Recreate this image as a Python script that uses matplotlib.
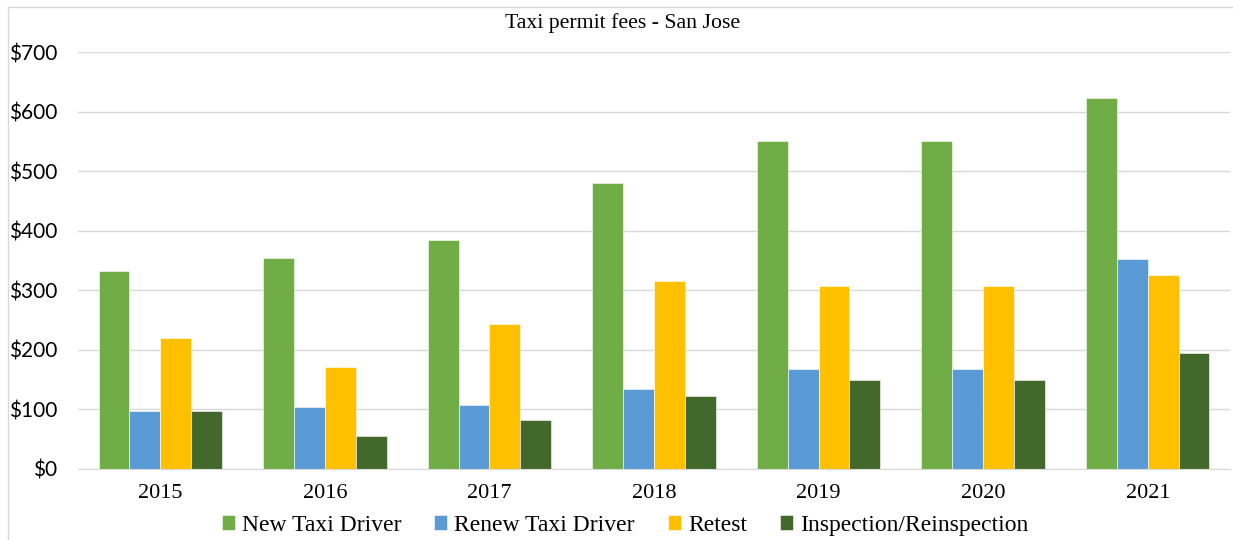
import numpy as np
import matplotlib
matplotlib.use("Agg")
import matplotlib.pyplot as plt
from matplotlib.lines import Line2D

years = ["2015", "2016", "2017", "2018", "2019", "2020", "2021"]
new_driver = [332, 355, 384, 480, 550, 550, 622]
renew_driver = [98, 104, 108, 134, 168, 168, 352]
retest = [220, 171, 244, 315, 308, 307, 326]
inspection = [98, 56, 82, 123, 150, 150, 195]

series = [
    ("New Taxi Driver", new_driver, "#70AD47"),
    ("Renew Taxi Driver", renew_driver, "#5B9BD5"),
    ("Retest", retest, "#FFC000"),
    ("Inspection/Reinspection", inspection, "#43682B"),
]

serif = "Liberation Serif"

fig = plt.figure(figsize=(12.33, 5.4), dpi=100)
ax = fig.add_axes([0.0633, 0.1315, 0.9343, 0.7722])

x = np.arange(len(years))
w = 0.1875
for i, (name, vals, col) in enumerate(series):
    ax.bar(x + (i - 1.5) * w, vals, width=w, color=col, label=name,
           edgecolor="white", linewidth=0.4, zorder=3)

ax.set_xlim(-0.5, len(years) - 0.5)
ax.set_ylim(0, 700)
ax.set_yticks(range(0, 701, 100))
ax.set_yticklabels(["$%d" % v for v in range(0, 701, 100)],
                   fontsize=15, family="Lato")
ax.set_xticks(x)
ax.set_xticklabels(years, fontsize=16, family=serif)
ax.tick_params(axis="y", length=0, pad=15)
ax.tick_params(axis="x", length=0, pad=11)
ax.grid(axis="y", color="#D9D9D9", linewidth=1, zorder=0)
for s in ["top", "right", "left"]:
    ax.spines[s].set_visible(False)
ax.spines["bottom"].set_color("#D9D9D9")
ax.spines["bottom"].set_zorder(4)

fig.text(0.505, 0.958, "Taxi permit fees - San Jose", ha="center", va="center",
         fontsize=15.7, family=serif)

fig.legend(loc="center", bbox_to_anchor=(0.507, 0.027), ncol=4, frameon=False,
           prop={"family": serif, "size": 17}, handlelength=0.55,
           handleheight=0.55, handletextpad=0.3, columnspacing=1.4)

# chart border (left and top edges visible)
fig.add_artist(Line2D([8 / 1233, 8 / 1233], [0, 1 - 7 / 540],
                      transform=fig.transFigure, color="#D9D9D9", linewidth=1))
fig.add_artist(Line2D([8 / 1233, 1], [1 - 7 / 540, 1 - 7 / 540],
                      transform=fig.transFigure, color="#D9D9D9", linewidth=1))

fig.savefig("out.png", dpi=100)
